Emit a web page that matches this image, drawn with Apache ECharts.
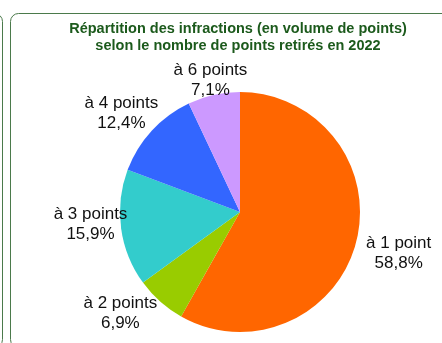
<!DOCTYPE html>
<html>
<head>
<meta charset="utf-8">
<script src="https://cdn.jsdelivr.net/npm/echarts@6/dist/echarts.min.js"></script>
<style>
  html, body { margin: 0; padding: 0; background: #ffffff; }
  #chart { width: 442px; height: 343px; }
</style>
</head>
<body>
<div id="chart"></div>
<script>
// Share of infractions (by volume of points) per number of points withdrawn, 2022
const categories = ['à 1 point', 'à 2 points', 'à 3 points', 'à 4 points', 'à 6 points'];
const shares = [58.8, 6.9, 15.9, 12.4, 7.1];
const titleLines = [
  'Répartition des infractions (en volume de points)',
  'selon le nombre de points retirés en 2022'
];

// Styling
const sliceColors = ['#ff6600', '#99cc00', '#33cccc', '#3366ff', '#cc99ff'];
const frameColor = '#4b7a4b';
const titleColor = '#1c5a1c';

// Pie geometry and label placement (distance from centre, angular nudge in degrees)
const pieCenter = [240, 212];
const pieRadius = 120;
const labelDistance = [164, 157, 150, 154, 135];
const labelNudge = [0, 8, 3, -3, 0];

const total = shares.reduce((a, b) => a + b, 0);
const midAngles = [];
let running = 0;
shares.forEach(v => { midAngles.push((running + v / 2) / total * 360); running += v; });

function percentText(v) { return v.toFixed(1).replace('.', ',') + '%'; }

const chart = echarts.init(document.getElementById('chart'), null, { renderer: 'canvas' });

chart.setOption({
  animation: false,
  backgroundColor: '#ffffff',
  title: {
    text: titleLines.join('\n'),
    left: 238,
    top: 20,
    padding: 0,
    textAlign: 'center',
    textStyle: {
      fontFamily: 'Liberation Sans, Arial, sans-serif',
      fontSize: 14.5,
      fontWeight: 'bold',
      lineHeight: 17,
      color: titleColor
    }
  },
  graphic: [
    {
      type: 'rect', silent: true,
      shape: { x: -200, y: 13.5, width: 202.5, height: 334, r: 8 },
      style: { fill: 'none', stroke: frameColor, lineWidth: 1 }
    },
    {
      type: 'rect', silent: true,
      shape: { x: 10.5, y: 13.5, width: 460, height: 334, r: 8 },
      style: { fill: 'none', stroke: frameColor, lineWidth: 1 }
    }
  ],
  series: [{
    type: 'pie',
    center: pieCenter,
    radius: pieRadius,
    startAngle: 90,
    clockwise: true,
    avoidLabelOverlap: false,
    itemStyle: { borderWidth: 0 },
    emphasis: { disabled: true },
    label: {
      show: true,
      position: 'outside',
      fontFamily: 'Liberation Sans, Arial, sans-serif',
      fontSize: 17,
      lineHeight: 20,
      color: '#111111',
      align: 'center',
      formatter: p => p.name + '\n' + percentText(p.value)
    },
    labelLine: { show: false },
    labelLayout: params => {
      const i = params.dataIndex;
      const a = (midAngles[i] + labelNudge[i]) * Math.PI / 180;
      return {
        x: pieCenter[0] + labelDistance[i] * Math.sin(a),
        y: pieCenter[1] - labelDistance[i] * Math.cos(a),
        align: 'center',
        verticalAlign: 'middle'
      };
    },
    data: categories.map((name, i) => ({
      name: name,
      value: shares[i],
      itemStyle: { color: sliceColors[i] }
    }))
  }]
});
</script>
</body>
</html>
